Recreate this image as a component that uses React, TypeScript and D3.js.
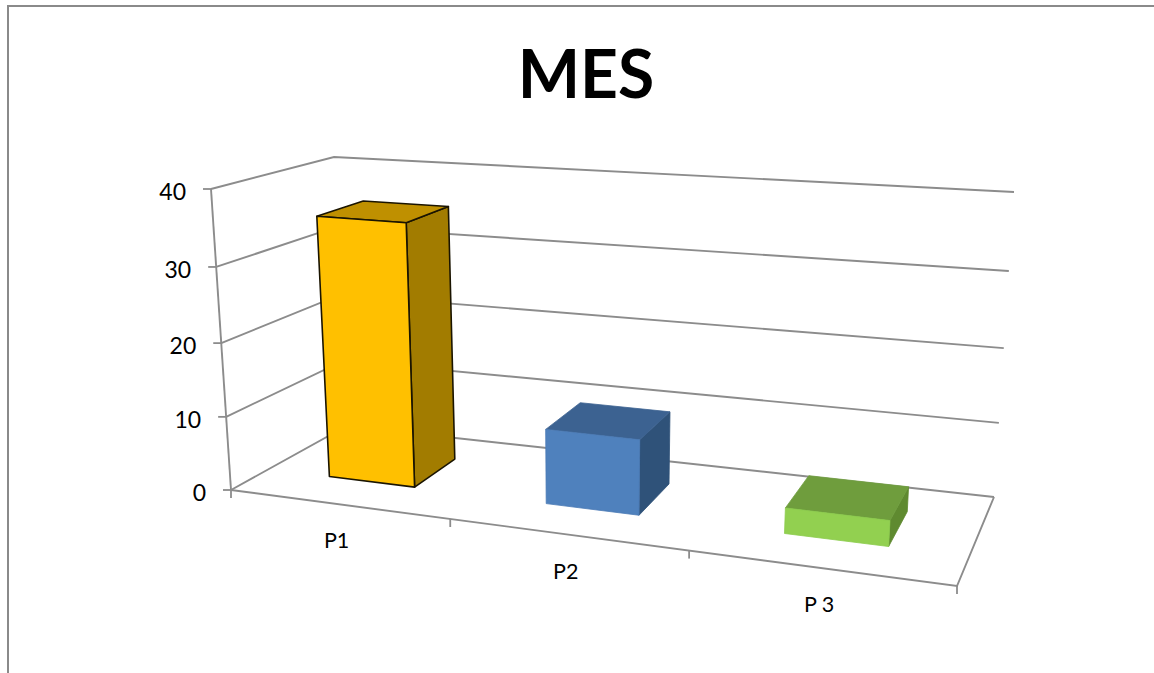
import React from "react";
import * as d3 from "d3";

// Chart content
const chartTitle = "MES";
const categories = ["P1", "P2", "P 3"];
const seriesValues = [35.6, 10, 3.3];
const valueTicks = [0, 10, 20, 30, 40];
const frontColors = ["#FFC000", "#4F81BD", "#92D050"];
const topColors = ["#BF9000", "#3C6291", "#6F9D3D"];
const sideColors = ["#A27C00", "#2F5279", "#5F8A30"];
const barEdgeColors = ["#1a1400", "#4A7AB5", "#8CCB4C"];

type Pt = [number, number];

const W = 1154;
const H = 673;
const FONT = "Lato, Carlito, 'Open Sans', sans-serif";
const GRID = "#8C8C8C";

// Screen positions of the eight corners of the plot box, [depth][height][side].
const boxFloor: Pt[][] = [
  [[231, 490], [957, 586]],
  [[346.6, 426], [994, 497]],
];
const boxCeil: Pt[][] = [
  [[211, 189], [979, 246]],
  [[334, 157], [1014, 192]],
];

// Foreshortening along each axis of the box.
const uScale = d3.scaleLinear().domain([0, 1, 2, 3]).range([0, 0.302, 0.631, 1]);
const wScale = d3.scaleLinear().domain(valueTicks).range([0, 0.243, 0.488, 0.741, 1]);
const vFront = 0.33;
const vBack = 0.735;
const barStart = 0.285;
const barEnd = 0.688;

const mix = (a: Pt, b: Pt, t: number): Pt => [a[0] + (b[0] - a[0]) * t, a[1] + (b[1] - a[1]) * t];

// Maps category position, depth and value onto the screen.
function project(cat: number, v: number, value: number): Pt {
  const u = uScale(cat);
  const floor = mix(mix(boxFloor[0][0], boxFloor[0][1], u), mix(boxFloor[1][0], boxFloor[1][1], u), v);
  const ceil = mix(mix(boxCeil[0][0], boxCeil[0][1], u), mix(boxCeil[1][0], boxCeil[1][1], u), v);
  return mix(floor, ceil, wScale(value));
}

const poly = d3.line<Pt>();
const closed = (pts: Pt[]) => poly(pts) + "Z";

export default function App() {
  const nCat = categories.length;
  const maxV = valueTicks[valueTicks.length - 1];

  return (
    <svg
      width={W}
      height={H}
      viewBox={`0 0 ${W} ${H}`}
      style={{ position: "absolute", left: 0, top: 0, display: "block", background: "#fff" }}
    >
      {/* Chart area border, open on the right and at the bottom */}
      <path d={`M8 ${H}V6H${W}`} fill="none" stroke="#8A8A8A" strokeWidth={2} />

      <text x={586} y={98} textAnchor="middle" fontFamily={FONT} fontWeight={700} fontSize={66} fill="#000">
        {chartTitle}
      </text>

      {/* Side wall and back wall gridlines */}
      {valueTicks.map((t) => (
        <path
          key={`grid-${t}`}
          d={poly([project(0, 0, t), project(0, 1, t), project(nCat, 1, t)]) ?? ""}
          fill="none"
          stroke={GRID}
          strokeWidth={1.9}
        />
      ))}

      {/* Floor outline and the two axes */}
      <path
        d={poly([project(0, 0, 0), project(nCat, 0, 0), project(nCat, 1, 0)]) ?? ""}
        fill="none"
        stroke={GRID}
        strokeWidth={1.9}
      />
      <path d={poly([project(0, 0, 0), project(0, 0, maxV)]) ?? ""} fill="none" stroke={GRID} strokeWidth={1.9} />

      {/* Value axis ticks and labels */}
      {valueTicks.map((t) => {
        const [x, y] = project(0, 0, t);
        return (
          <g key={`tick-${t}`}>
            <line x1={x - 8} x2={x} y1={y} y2={y} stroke={GRID} strokeWidth={1.8} />
            <text x={x - 25} y={y + 11} textAnchor="end" fontFamily={FONT} fontSize={23} fill="#000">
              {t}
            </text>
          </g>
        );
      })}

      {/* Category axis ticks */}
      {d3.range(nCat + 1).map((i) => {
        const [x, y] = project(i, 0, 0);
        return <line key={`cat-${i}`} x1={x} x2={x} y1={y} y2={y + 8} stroke={GRID} strokeWidth={1.8} />;
      })}

      {/* Bars, drawn left to right */}
      {seriesValues.map((value, i) => {
        const l = i + barStart;
        const r = i + barEnd;
        const stroke = barEdgeColors[i];
        const sw = i === 0 ? 1.6 : 0.8;
        const side = [project(r, vFront, 0), project(r, vBack, 0), project(r, vBack, value), project(r, vFront, value)];
        const top = [project(l, vFront, value), project(r, vFront, value), project(r, vBack, value), project(l, vBack, value)];
        const front = [project(l, vFront, 0), project(r, vFront, 0), project(r, vFront, value), project(l, vFront, value)];
        return (
          <g key={categories[i]} strokeLinejoin="round">
            <path d={closed(side)} fill={sideColors[i]} stroke={i === 0 ? stroke : sideColors[i]} strokeWidth={sw} />
            <path d={closed(top)} fill={topColors[i]} stroke={i === 0 ? stroke : topColors[i]} strokeWidth={sw} />
            <path d={closed(front)} fill={frontColors[i]} stroke={stroke} strokeWidth={sw} />
          </g>
        );
      })}

      {/* Category labels */}
      {categories.map((c, i) => {
        const [x, y] = project(i + 0.5, 0, 0);
        return (
          <text key={c} x={x - 4} y={y + 44} textAnchor="middle" fontFamily={FONT} fontSize={21.5} fill="#000">
            {c}
          </text>
        );
      })}
    </svg>
  );
}
